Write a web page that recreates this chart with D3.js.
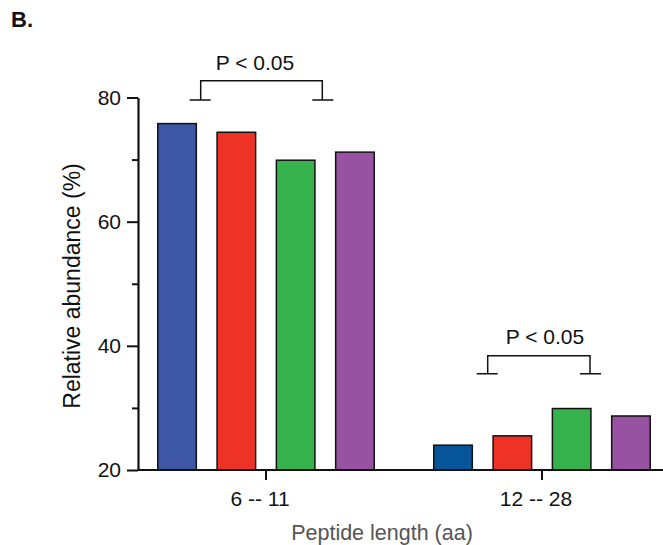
<!DOCTYPE html>
<html lang="en">
<head>
    <meta charset="UTF-8">
    <title>Relative abundance by peptide length</title>
    <script src="https://d3js.org/d3.v7.min.js"></script>
    <style>
        body { margin: 0; background: #fff; }
        text { font-family: "Liberation Sans", Arial, sans-serif; }
    </style>
</head>
<body>
    <svg width="663" height="545"></svg>
    <script>
        const groups = ["6 -- 11", "12 -- 28"];
        const series = ["s1", "s2", "s3", "s4"];
        const values = [
            [75.8, 74.4, 69.9, 71.2],
            [24.0, 25.5, 29.9, 28.7]
        ];
        const colors = [
            ["#3d57a6", "#ee3226", "#35b24b", "#9752a1"],
            ["#06549a", "#ee3226", "#35b24b", "#9752a1"]
        ];
        const majorTicks = [20, 40, 60, 80];
        const minorTicks = [30, 50, 70];

        const svg = d3.select("svg"),
              margin = {top: 97.5, left: 138},
              plotBottom = 470;

        const y = d3.scaleLinear().domain([20, 80]).range([plotBottom, margin.top]);

        const x0 = d3.scaleBand().domain(groups).range([128, 680]);
        const groupWidth = 237.2;
        const x1 = d3.scaleBand().domain(series).range([0, groupWidth])
                     .paddingInner(0.35).paddingOuter(0.175);
        const groupStart = g => x0(g) + (x0.bandwidth() - groupWidth) / 2;

        // bars
        groups.forEach((g, gi) => {
            svg.append("g").selectAll("rect")
               .data(values[gi])
               .enter().append("rect")
               .attr("x", (d, i) => groupStart(g) + x1(series[i]))
               .attr("y", d => y(d))
               .attr("width", x1.bandwidth())
               .attr("height", d => y(20) - y(d))
               .attr("fill", (d, i) => colors[gi][i])
               .attr("stroke", "#111")
               .attr("stroke-width", 1.5);
        });

        // y axis
        const yAxis = svg.append("g")
            .attr("transform", `translate(${margin.left},0)`)
            .call(d3.axisLeft(y).tickValues(majorTicks).tickSize(11).tickPadding(6).tickSizeOuter(0));
        yAxis.selectAll(".tick text").attr("font-size", 21).attr("font-family", null).attr("fill", "#111");
        yAxis.select(".domain").attr("stroke-width", 2.2).attr("stroke", "#111");
        yAxis.selectAll(".tick line").attr("stroke-width", 2).attr("stroke", "#111");
        svg.append("g")
            .attr("transform", `translate(${margin.left},0)`)
            .call(d3.axisLeft(y).tickValues(minorTicks).tickSize(6).tickFormat("").tickSizeOuter(0))
            .call(s => s.select(".domain").remove())
            .selectAll(".tick line").attr("stroke-width", 2).attr("stroke", "#111");

        // x axis
        const xAxis = svg.append("g")
            .attr("transform", `translate(0,${plotBottom})`)
            .call(d3.axisBottom(x0).tickSize(10).tickPadding(11).tickSizeOuter(0));
        xAxis.select(".domain").attr("d", `M${margin.left},0H663`).attr("stroke-width", 2.2).attr("stroke", "#111");
        xAxis.selectAll(".tick line").attr("stroke-width", 2).attr("stroke", "#111");
        xAxis.selectAll(".tick text").attr("font-size", 21).attr("font-family", null)
             .attr("fill", "#111").attr("dx", -6);

        // axis titles
        svg.append("text")
            .attr("transform", `translate(80,286) rotate(-90)`)
            .attr("text-anchor", "middle")
            .attr("font-size", 23)
            .attr("fill", "#111")
            .text("Relative abundance (%)");
        svg.append("text")
            .attr("x", 382).attr("y", 540)
            .attr("text-anchor", "middle")
            .attr("font-size", 21.5)
            .attr("fill", "#555")
            .text("Peptide length (aa)");

        svg.append("text")
            .attr("x", 11).attr("y", 27)
            .attr("font-size", 22)
            .attr("font-weight", "bold")
            .attr("fill", "#111")
            .text("B.");

        // significance brackets: offsets from group centre, y in data units
        const brackets = [
            {group: "6 -- 11", left: -65.3, right: 56.3, top: 82.7, foot: 79.6, label: 84.5, dx: -11},
            {group: "12 -- 28", left: -54.3, right: 48, top: 38.4, foot: 35.5, label: 40.3, dx: 3}
        ];
        brackets.forEach(b => {
            const c = x0(b.group) + x0.bandwidth() / 2;
            const l = c + b.left, r = c + b.right;
            const bg = svg.append("g").attr("fill", "none").attr("stroke", "#111").attr("stroke-width", 1.5);
            bg.append("path").attr("d", `M${l},${y(b.foot)}V${y(b.top)}H${r}V${y(b.foot)}`);
            bg.append("path").attr("d", `M${l - 11},${y(b.foot)}H${l + 10}M${r - 10},${y(b.foot)}H${r + 11}`);
            svg.append("text")
                .attr("x", c + b.dx).attr("y", y(b.label))
                .attr("text-anchor", "middle")
                .attr("font-size", 21)
                .attr("fill", "#111")
                .text("P < 0.05");
        });
    </script>
</body>
</html>
